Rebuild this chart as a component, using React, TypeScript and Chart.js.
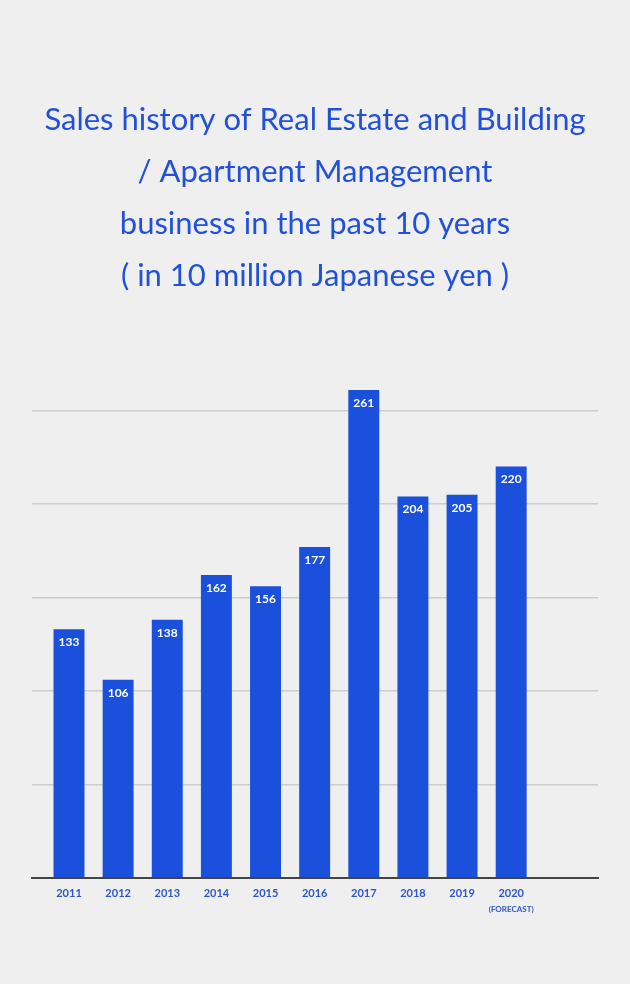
import React, { useEffect, useRef } from 'react';
import { Chart, registerables } from 'chart.js';

Chart.register(...registerables);

// ---- data ----
const YEARS = [2011, 2012, 2013, 2014, 2015, 2016, 2017, 2018, 2019, 2020];
const SALES = [133, 106, 138, 162, 156, 177, 261, 204, 205, 220];
const FORECAST_YEAR = 2020;
const FORECAST_NOTE = '(FORECAST)';
const TITLE_LINES = [
  'Sales history of Real Estate and Building',
  '/ Apartment Management',
  'business in the past 10 years',
  '( in 10 million Japanese yen )',
];
const Y_GRID_STEP = 50;

// ---- styles ----
const BG = '#efefef';
const BAR_COLOR = '#1a50db';
const TITLE_COLOR = '#2151d6';
const TICK_COLOR = '#2d57c8';
const GRID_COLOR = '#cdcdcd';
const AXIS_COLOR = '#444444';
const FONT = 'Lato, "Noto Sans", sans-serif';

const bgPlugin = {
  id: 'bgFill',
  beforeDraw(chart: any) {
    const { ctx, width, height } = chart;
    ctx.save();
    ctx.fillStyle = BG;
    ctx.fillRect(0, 0, width, height);
    ctx.restore();
  },
};

const valueLabelPlugin = {
  id: 'valueLabels',
  afterDatasetsDraw(chart: any) {
    const { ctx } = chart;
    const meta = chart.getDatasetMeta(0);
    ctx.save();
    ctx.fillStyle = '#ffffff';
    ctx.font = `bold 12px ${FONT}`;
    ctx.textAlign = 'center';
    ctx.textBaseline = 'middle';
    meta.data.forEach((bar: any, i: number) => {
      ctx.fillText(String(SALES[i]), bar.x, bar.y + 13);
    });
    ctx.restore();
  },
};

const forecastPlugin = {
  id: 'forecastNote',
  afterDraw(chart: any) {
    const { ctx } = chart;
    const xs = chart.scales.x;
    const px = xs.getPixelForValue(FORECAST_YEAR);
    ctx.save();
    ctx.fillStyle = TICK_COLOR;
    ctx.font = `bold 8px ${FONT}`;
    ctx.textAlign = 'center';
    ctx.textBaseline = 'middle';
    ctx.fillText(FORECAST_NOTE, px, xs.top + 32);
    ctx.restore();
  },
};

export default function App() {
  const ref = useRef<HTMLCanvasElement>(null);

  useEffect(() => {
    if (!ref.current) return;
    const chart = new Chart(ref.current, {
      type: 'bar',
      data: {
        datasets: [
          {
            data: YEARS.map((y, i) => ({ x: y, y: SALES[i] })),
            backgroundColor: BAR_COLOR,
            borderWidth: 0,
            categoryPercentage: 1,
            barPercentage: 0.63,
          },
        ],
      },
      options: {
        animation: false,
        responsive: true,
        maintainAspectRatio: false,
        layout: { padding: { left: 32, right: 32, top: 0, bottom: 83 } },
        plugins: {
          legend: { display: false },
          tooltip: { enabled: false },
          title: {
            display: true,
            text: TITLE_LINES,
            color: TITLE_COLOR,
            font: { family: FONT, size: 31, weight: 'normal', lineHeight: '52px' },
            padding: { top: 94, bottom: 73 },
          },
        },
        scales: {
          x: {
            type: 'linear',
            offset: false,
            min: 2010.247,
            max: 2021.767,
            grid: { display: false },
            border: { display: true, color: AXIS_COLOR, width: 2 },
            afterBuildTicks: (scale: any) => {
              scale.ticks = YEARS.map((v) => ({ value: v }));
            },
            ticks: {
              autoSkip: false,
              maxRotation: 0,
              padding: 1,
              color: TICK_COLOR,
              font: { family: FONT, size: 11, weight: 'bold' },
              callback: (v: any) => String(v),
            },
          },
          y: {
            min: 0,
            max: 269,
            ticks: { display: false, stepSize: Y_GRID_STEP },
            border: { display: false },
            grid: {
              drawTicks: false,
              lineWidth: 1.5,
              color: (ctx: any) =>
                ctx.tick && ctx.tick.value > 0 && ctx.tick.value % Y_GRID_STEP === 0
                  ? GRID_COLOR
                  : 'transparent',
            },
          },
        },
      },
      plugins: [bgPlugin, valueLabelPlugin, forecastPlugin],
    });
    return () => chart.destroy();
  }, []);

  return (
    <div
      style={{
        position: 'fixed',
        left: 0,
        top: 0,
        width: 630,
        height: 984,
        background: BG,
      }}
    >
      <canvas ref={ref} />
    </div>
  );
}
